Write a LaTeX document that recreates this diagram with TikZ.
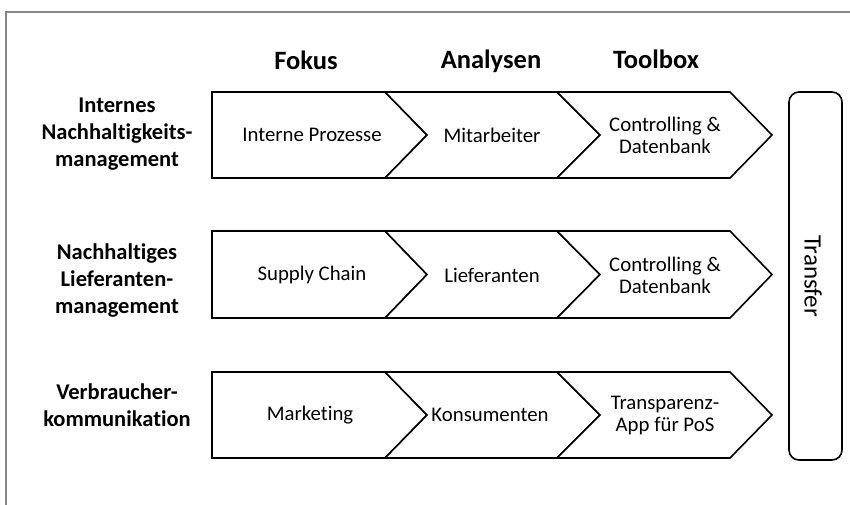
\documentclass[tikz,border=0pt]{standalone}
\usepackage{fontspec}
\setmainfont{Carlito}[Ligatures={NoCommon}]
\begin{document}
\begin{tikzpicture}[x=1pt,y=-1pt,
  chev/.style={draw=black,line width=1.6pt,line join=miter,fill=white},
  frame/.style={draw=gray!95,line width=2pt},
  head/.style={font=\fontsize{26.5}{30}\selectfont\bfseries,inner sep=0pt},
  rowlabel/.style={font=\fontsize{22.5}{27}\selectfont\bfseries,align=center,inner sep=0pt},
  body/.style={font=\fontsize{20.8}{22}\selectfont,align=center,inner sep=0pt},
  transferbox/.style={draw=black,line width=1.6pt,rounded corners=10pt}]
\useasboundingbox (0,0) rectangle (850,504);
\draw[frame] (6,520) -- (6,12) -- (860,12);
% headers
\node[head] (hF) at (306,60) {Fokus};
\node[head] (hA) at (491,61) {Analysen};
\node[head] (hT) at (656,59) {Toolbox};
% chevrons
\foreach \T/\B in {92/178,231/318,372/458}{
  \pgfmathsetmacro{\M}{(\T+\B)/2}
  \draw[chev] (212,\T) -- (385,\T) -- (427,\M) -- (385,\B) -- (212,\B) -- cycle;
  \draw[chev] (385,\T) -- (557,\T) -- (600,\M) -- (557,\B) -- (385,\B) -- (427,\M) -- cycle;
  \draw[chev] (557,\T) -- (730,\T) -- (772,\M) -- (730,\B) -- (557,\B) -- (600,\M) -- cycle;
}
% row labels
\node[rowlabel] (l1) at (117,134) {Internes\\Nachhaltigkeits-\\management};
\node[rowlabel] (l2) at (117,281) {Nachhaltiges\\Lieferanten-\\management};
\node[rowlabel] (l3) at (117,405) {Verbraucher-\\kommunikation};
% row texts
\node[body] (a1) at (312,135) {Interne Prozesse};
\node[body] (b1) at (492,135) {Mitarbeiter};
\node[body] (c1) at (665,135) {Controlling \&\\Datenbank};
\node[body] (a2) at (312,275) {Supply Chain};
\node[body] (b2) at (492,275) {Lieferanten};
\node[body] (c2) at (665,275) {Controlling \&\\Datenbank};
\node[body] (a3) at (310,415) {Marketing};
\node[body] (b3) at (490,415) {Konsumenten};
\node[body] (c3) at (665,415) {Transparenz-\\App für PoS};
% transfer
\draw[transferbox] (789,92) rectangle (842,460);
\node[font=\fontsize{25}{30}\selectfont,rotate=-90,inner sep=0pt] (tr) at (813,276) {Transfer};
\end{tikzpicture}
\end{document}
